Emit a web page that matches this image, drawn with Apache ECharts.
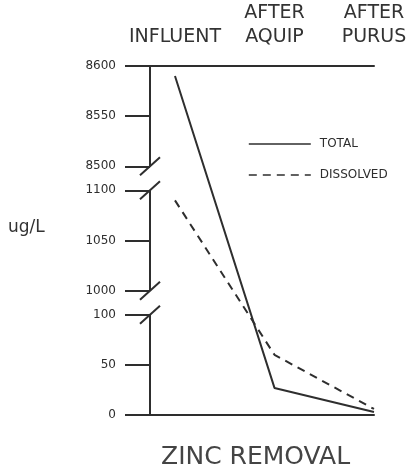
<!DOCTYPE html>
<html>
<head>
<meta charset="utf-8">
<script src="https://cdn.jsdelivr.net/npm/echarts@6/dist/echarts.min.js"></script>
<style>
  html, body { margin: 0; padding: 0; background: #fff; }
  #main { width: 415px; height: 474px; }
</style>
</head>
<body>
<div id="main"></div>
<script>
// 数据
var stages = ['INFLUENT', 'AFTER\nAQUIP', 'AFTER\nPURUS'];
var totalValues = [8590, 27, 3];
var dissolvedValues = [1090, 60, 6];
var axisSegments = [[0, 100], [1000, 1100], [8500, 8600]];

var ink = '#2e2e2e';
var font = 'DejaVu Sans';
var xMin = -0.251;

function toPoints(vals) {
  return vals.map(function (v, i) { return [i, v]; });
}

var myChart = echarts.init(document.getElementById('main'));
var option = {
  animation: false,
  backgroundColor: '#fff',
  grid: { left: 150, right: 41, top: 66, bottom: 59 },
  title: {
    text: 'ZINC REMOVAL',
    left: 156,
    top: 440,
    textStyle: { fontFamily: font, fontSize: 25, fontWeight: 'normal', color: '#444' }
  },
  legend: {
    orient: 'vertical',
    left: 248,
    top: 138,
    padding: 0,
    itemWidth: 62,
    itemHeight: 14,
    itemGap: 19,
    itemStyle: { opacity: 0 },
    lineStyle: { width: 1.6 },
    textStyle: { fontFamily: font, fontSize: 12, color: ink, padding: [0, 0, 0, 4] },
    data: ['TOTAL', 'DISSOLVED']
  },
  xAxis: [{
    type: 'value',
    position: 'top',
    min: xMin,
    max: 2,
    splitLine: { show: false },
    axisTick: { show: false },
    axisLine: { show: true, onZero: false, lineStyle: { color: ink, width: 2 } },
    axisLabel: {
      customValues: [0, 1, 2],
      margin: 17,
      fontFamily: font,
      fontSize: 19,
      lineHeight: 24,
      color: '#333',
      formatter: function (v) { return stages[Math.round(v)]; }
    }
  }, {
    type: 'value',
    position: 'bottom',
    min: xMin,
    max: 2,
    splitLine: { show: false },
    axisTick: { show: false },
    axisLabel: { show: false },
    axisLine: { show: true, onZero: false, lineStyle: { color: ink, width: 2 } }
  }],
  yAxis: {
    type: 'value',
    min: 0,
    max: 8600,
    interval: 50,
    breaks: [
      { start: 100, end: 1000, gap: 24 },
      { start: 1100, end: 8500, gap: 24 }
    ],
    breakArea: { show: false },
    splitLine: { show: false },
    axisLine: { show: false, onZero: false },
    axisTick: { show: true, length: 25, lineStyle: { color: ink, width: 2 } },
    axisLabel: {
      margin: 34,
      fontFamily: font,
      fontSize: 12,
      color: ink,
      formatter: function (v) { return String(v); }
    }
  },
  series: [{
    name: 'TOTAL',
    type: 'line',
    symbol: 'none',
    lineStyle: { color: ink, width: 2 },
    itemStyle: { color: ink },
    data: toPoints(totalValues)
  }, {
    name: 'DISSOLVED',
    type: 'line',
    symbol: 'none',
    lineStyle: { color: ink, width: 2, type: [8, 6] },
    itemStyle: { color: ink },
    data: toPoints(dissolvedValues)
  }]
};
myChart.setOption(option);

// 断轴：轴线分段 + 斜线标记
var graphics = [];
axisSegments.forEach(function (seg) {
  var p0 = myChart.convertToPixel({ xAxisIndex: 0, yAxisIndex: 0 }, [xMin, seg[0]]);
  var p1 = myChart.convertToPixel({ xAxisIndex: 0, yAxisIndex: 0 }, [xMin, seg[1]]);
  graphics.push({
    type: 'line',
    shape: { x1: p0[0], y1: p0[1], x2: p1[0], y2: p1[1] },
    style: { stroke: ink, lineWidth: 2 }
  });
});
[100, 1000, 1100, 8500].forEach(function (v) {
  var p = myChart.convertToPixel({ xAxisIndex: 0, yAxisIndex: 0 }, [xMin, v]);
  graphics.push({
    type: 'line',
    shape: { x1: p[0] - 10, y1: p[1] + 9, x2: p[0] + 10, y2: p[1] - 9 },
    style: { stroke: ink, lineWidth: 2 }
  });
});
graphics.push({
  type: 'text',
  left: 8,
  top: 219,
  style: { text: 'ug/L', fontFamily: font, fontSize: 17, fill: '#333' }
});
myChart.setOption({ graphic: graphics });
</script>
</body>
</html>
